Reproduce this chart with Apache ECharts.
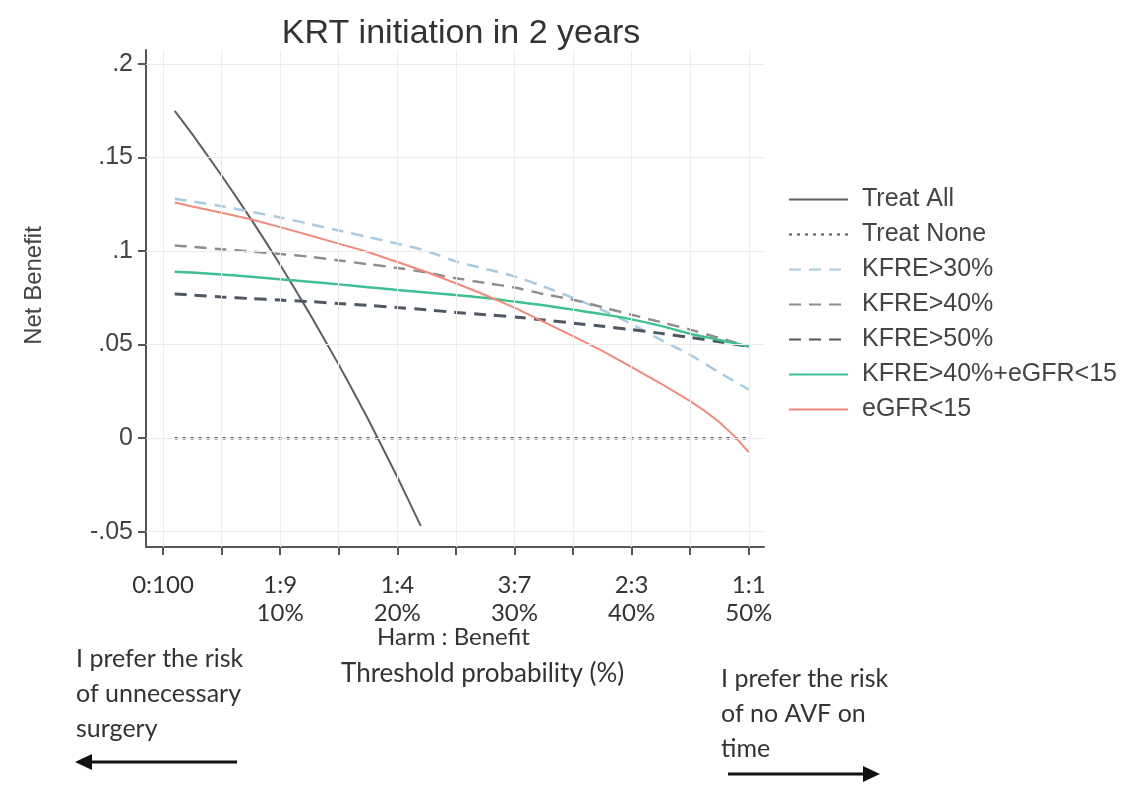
<!DOCTYPE html>
<html>
<head>
<meta charset="utf-8">
<script src="https://cdn.jsdelivr.net/npm/echarts@6/dist/echarts.min.js"></script>
<style>
html,body{margin:0;padding:0;background:#fff;}
#chart{width:1125px;height:785px;}
</style>
</head>
<body>
<div id="chart"></div>
<script>
// ---- data ----
var xThreshold = [1, 2.5, 5, 7.5, 10, 12.5, 15, 17.5, 20, 22.5, 25, 27.5, 30, 32.5, 35, 37.5, 40, 42.5, 45, 47.5, 50];
var treatAllX = [1, 2.5, 5, 7.5, 10, 12.5, 15, 17.5, 20, 22];
var treatAll = [0.175, 0.1625, 0.1404, 0.1172, 0.0927, 0.0667, 0.0393, 0.0102, -0.0208, -0.0469];
var treatNoneX = [1, 50];
var treatNone = [0, 0];
var kfre30 = [0.128, 0.1265, 0.124, 0.121, 0.118, 0.1145, 0.111, 0.1075, 0.104, 0.1, 0.0945, 0.0905, 0.0865, 0.081, 0.075, 0.0685, 0.061, 0.0525, 0.0445, 0.035, 0.026];
var kfre40 = [0.103, 0.1023, 0.101, 0.0998, 0.0985, 0.097, 0.095, 0.093, 0.091, 0.0885, 0.0855, 0.083, 0.0805, 0.077, 0.074, 0.070, 0.066, 0.062, 0.058, 0.0535, 0.049];
var kfre50 = [0.077, 0.0765, 0.0755, 0.0746, 0.0738, 0.073, 0.072, 0.071, 0.0698, 0.0686, 0.0672, 0.066, 0.0648, 0.0632, 0.0615, 0.0598, 0.058, 0.056, 0.0538, 0.0515, 0.049];
var kfre40egfr = [0.089, 0.0885, 0.0875, 0.0863, 0.085, 0.0836, 0.0822, 0.0807, 0.0792, 0.0778, 0.0765, 0.075, 0.073, 0.071, 0.0687, 0.0663, 0.0635, 0.060, 0.0558, 0.0525, 0.049];
var egfrX = [1, 2.5, 5, 7.5, 10, 12.5, 15, 17.5, 20, 22.5, 25, 27.5, 30, 32.5, 35, 37.5, 40, 42.5, 45, 46.25, 47.5, 48.75, 50];
var egfr15 = [0.126, 0.1238, 0.1205, 0.117, 0.1128, 0.1085, 0.104, 0.0995, 0.0942, 0.0888, 0.0828, 0.0765, 0.0698, 0.0622, 0.0545, 0.0466, 0.0380, 0.0292, 0.0198, 0.0145, 0.0085, 0.0012, -0.0075];
var seriesNames = ['Treat All', 'Treat None', 'KFRE>30%', 'KFRE>40%', 'KFRE>50%', 'KFRE>40%+eGFR<15', 'eGFR<15'];
var xTickValues = [0, 5, 10, 15, 20, 25, 30, 35, 40, 45, 50];
var xLabelValues = [0, 10, 20, 30, 40, 50];
var xRatioLabels = ['0:100', '1:9', '1:4', '3:7', '2:3', '1:1'];
var xPctLabels = ['', '10%', '20%', '30%', '40%', '50%'];
var yTickValues = [-0.05, 0, 0.05, 0.1, 0.15, 0.2];
var yTickLabels = ['-.05', '0', '.05', '.1', '.15', '.2'];

function pairs(xs, ys) { return xs.map(function (x, i) { return [x, ys[i]]; }); }

var chart = echarts.init(document.getElementById('chart'));
var sans = 'Liberation Sans, Arial, sans-serif';
var hum = 'Lato, Open Sans, sans-serif';

function lineSeries(name, data, color, width, type, smooth) {
  return {
    name: name, type: 'line', data: data, symbol: 'none', showSymbol: false, z: 3,
    smooth: smooth || false,
    lineStyle: { color: color, width: width, type: type }, itemStyle: { color: color },
    emphasis: { disabled: true }, animation: false
  };
}

var gridLines = xTickValues.map(function (v) { return { xAxis: v }; })
  .concat(yTickValues.map(function (v) { return { yAxis: v }; }));

var option = {
  backgroundColor: '#fff',
  animation: false,
  title: {
    text: 'KRT initiation in 2 years', left: 456, top: 12, textAlign: 'center',
    textStyle: { fontFamily: sans, fontSize: 34, fontWeight: 'normal', color: '#333' }
  },
  legend: {
    orient: 'vertical', left: 783, top: 182,
    itemWidth: 59, itemHeight: 12, itemGap: 10,
    itemStyle: { opacity: 0 },
    textStyle: { fontFamily: sans, fontSize: 25, color: '#444', lineHeight: 24, padding: [0, 0, 0, 9] },
    data: seriesNames
  },
  grid: { left: 146, top: 50, width: 618, height: 497, containLabel: false },
  xAxis: {
    type: 'value', min: -1.45, max: 51.3,
    axisLine: { show: true, onZero: false, lineStyle: { color: '#555', width: 2 } },
    axisTick: { show: true, length: 8, customValues: xTickValues, lineStyle: { color: '#555', width: 2 } },
    splitLine: { show: false },
    axisLabel: {
      customValues: xLabelValues, margin: 24, fontFamily: hum, fontSize: 24, color: '#333', lineHeight: 28,
      formatter: function (v) {
        var i = xLabelValues.indexOf(Math.round(v));
        if (i < 0) return '';
        return xPctLabels[i] ? xRatioLabels[i] + '\n' + xPctLabels[i] : xRatioLabels[i];
      },
      verticalAlign: 'top'
    }
  },
  yAxis: {
    type: 'value', min: -0.0582, max: 0.2075,
    name: 'Net Benefit', nameLocation: 'middle', nameGap: 100, nameRotate: 90,
    nameTextStyle: { fontFamily: sans, fontSize: 24, color: '#444', padding: [0, 0, 0, 26] },
    axisLine: { show: true, onZero: false, lineStyle: { color: '#555', width: 2 } },
    axisTick: { show: true, length: 8, customValues: yTickValues, lineStyle: { color: '#555', width: 2 } },
    splitLine: { show: false },
    axisLabel: {
      customValues: yTickValues, margin: 13, fontFamily: sans, fontSize: 25, color: '#444',
      formatter: function (v) {
        for (var i = 0; i < yTickValues.length; i++) if (Math.abs(v - yTickValues[i]) < 1e-6) return yTickLabels[i];
        return '';
      }
    }
  },
  graphic: [
    { type: 'text', left: 377, top: 625, style: { text: 'Harm : Benefit', font: '24px Lato, sans-serif', fill: '#333' } },
    { type: 'text', left: 341, top: 661, style: { text: 'Threshold probability (%)', font: '26px Lato, sans-serif', fill: '#333' } },
    { type: 'text', left: 76, top: 641, style: { text: 'I prefer the risk\nof unnecessary\nsurgery', font: '25px Lato, sans-serif', fill: '#333', lineHeight: 35 } },
    { type: 'text', left: 721, top: 661, style: { text: 'I prefer the risk\nof no AVF on\ntime', font: '25px Lato, sans-serif', fill: '#333', lineHeight: 35 } },
    { type: 'line', shape: { x1: 86, y1: 762, x2: 237, y2: 762 }, style: { stroke: '#111', lineWidth: 3 } },
    { type: 'polygon', shape: { points: [[75, 762], [92, 754], [92, 770]] }, style: { fill: '#111' } },
    { type: 'line', shape: { x1: 728, y1: 774, x2: 868, y2: 774 }, style: { stroke: '#111', lineWidth: 3 } },
    { type: 'polygon', shape: { points: [[880, 774], [863, 766], [863, 782]] }, style: { fill: '#111' } }
  ],
  series: [
    {
      name: 'grid', type: 'line', data: [], z: 1, silent: true, animation: false,
      markLine: {
        silent: true, symbol: ['none', 'none'], label: { show: false }, animation: false,
        lineStyle: { color: '#ececec', width: 1, type: 'solid' },
        emphasis: { disabled: true },
        data: gridLines
      }
    },
    lineSeries(seriesNames[0], pairs(treatAllX, treatAll), '#5f5f5f', 2, 'solid', 0.2),
    lineSeries(seriesNames[1], pairs(treatNoneX, treatNone), '#5a5a5a', 2.5, [3, 5]),
    lineSeries(seriesNames[2], pairs(xThreshold, kfre30), '#a9cbe2', 2.5, [12, 8], 0.3),
    lineSeries(seriesNames[3], pairs(xThreshold, kfre40), '#8e8e8e', 2.5, [12, 8], 0.3),
    lineSeries(seriesNames[4], pairs(xThreshold, kfre50), '#4f5862', 3, [12, 8], 0.3),
    lineSeries(seriesNames[5], pairs(xThreshold, kfre40egfr), '#3fc08e', 2.5, 'solid', 0.3),
    lineSeries(seriesNames[6], pairs(egfrX, egfr15), '#f08a7a', 2, 'solid', false)
  ]
};
chart.setOption(option);
</script>
</body>
</html>
